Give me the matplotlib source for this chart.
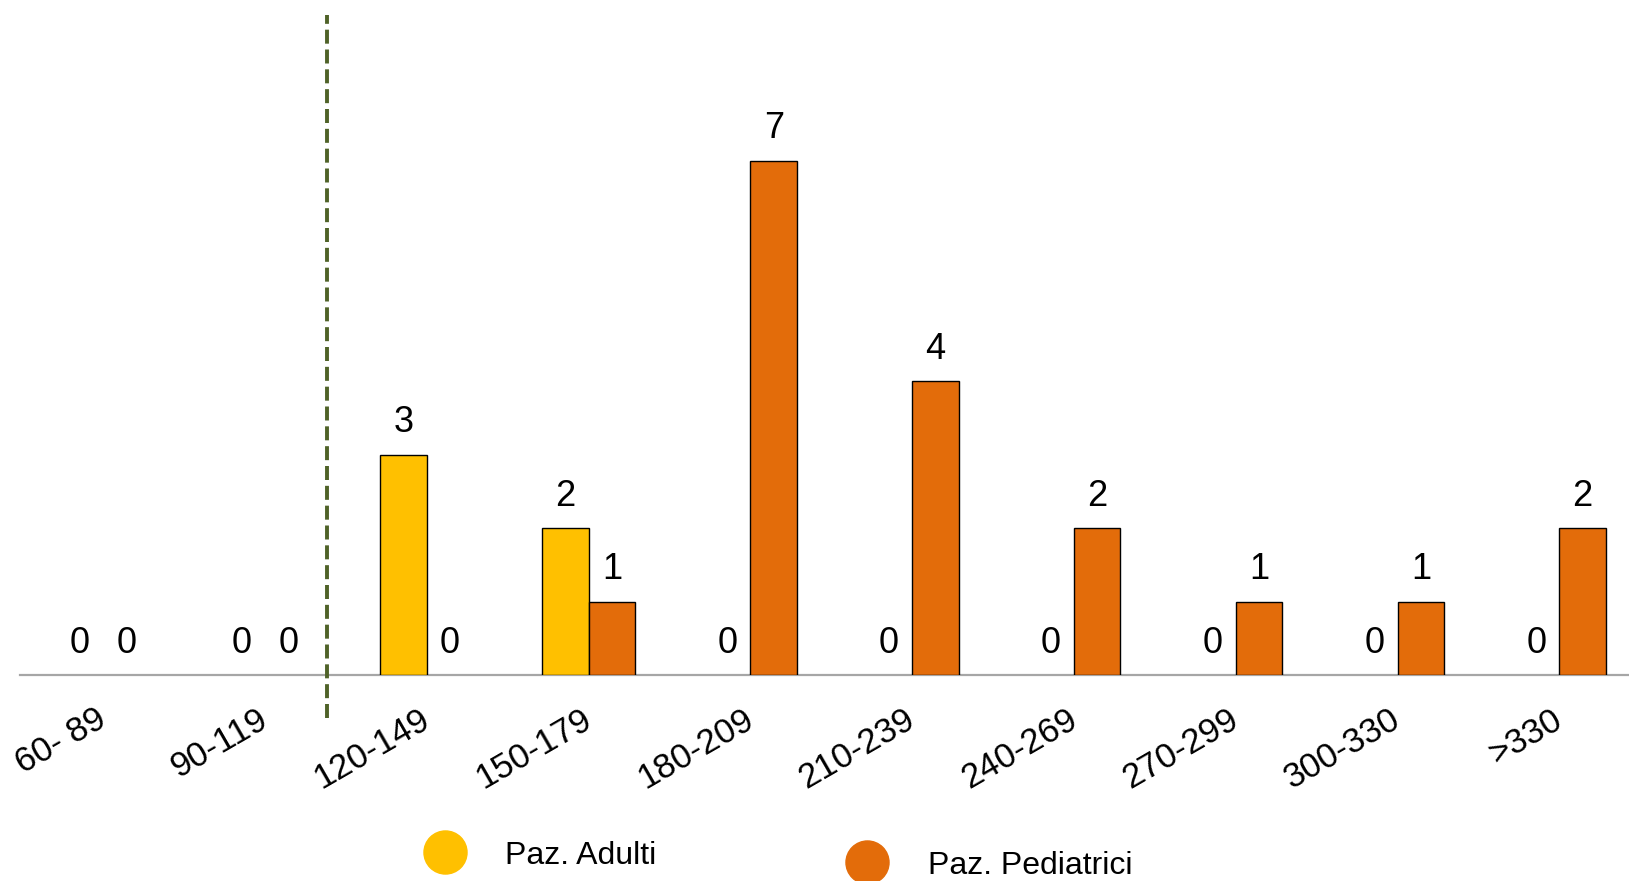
"""
plot.py

Bar chart of patient counts per range, adult vs paediatric patients,
with a dashed separator line and a hand-placed legend at the bottom.

Usage:
    python plot.py      # saves out.png
"""

import matplotlib
matplotlib.use("Agg")
import matplotlib.pyplot as plt
import matplotlib.transforms as mtransforms
import numpy as np

# ---------------------------------------------------------------------------
# Data
# ---------------------------------------------------------------------------

CATEGORIES = ["60- 89", "90-119", "120-149", "150-179", "180-209",
              "210-239", "240-269", "270-299", "300-330", ">330"]
ADULTI = [0, 0, 3, 2, 0, 0, 0, 0, 0, 0]
PEDIATRICI = [0, 0, 0, 1, 7, 4, 2, 1, 1, 2]
SERIES_NAMES = ["Paz. Adulti", "Paz. Pediatrici"]
SEPARATOR_X = 1.38  # dashed line between 90-119 and 120-149

COLOR_ADULTI = "#FFC000"
COLOR_PEDIATRICI = "#E36C0A"
COLOR_SEPARATOR = "#4F6228"

FONT = ["Liberation Sans", "DejaVu Sans"]

# ---------------------------------------------------------------------------
# Chart
# ---------------------------------------------------------------------------


def draw_series(ax, xs, values, width, color):
    # zero-height bars get no outline, so nothing shows on the baseline
    lws = [1.0 if v else 0 for v in values]
    ax.bar(xs, values, width, color=color, edgecolor="#000000",
           linewidth=lws, zorder=3)
    for x, v in zip(xs, values):
        ax.annotate(str(v), (x, v), xytext=(0, 16),
                    textcoords="offset points", ha="center", va="baseline",
                    fontsize=26, family=FONT, color="#000000")


def main() -> None:
    W, H = 1629, 881
    fig = plt.figure(figsize=(W / 100, H / 100), dpi=100)

    # axes spans from x=20px to right edge, baseline at y=675px
    ax = fig.add_axes([20 / W, (H - 675) / H, 1 - 20 / W, 675 / H])

    x = np.arange(len(CATEGORIES))
    width = 0.287

    draw_series(ax, x - width / 2, ADULTI, width, COLOR_ADULTI)
    draw_series(ax, x + width / 2, PEDIATRICI, width, COLOR_PEDIATRICI)

    ax.set_xlim(-0.515, 9.43)
    ax.set_ylim(0, 675 / 73.5)

    ax.plot([SEPARATOR_X, SEPARATOR_X], [-0.585, 8.98], color=COLOR_SEPARATOR,
            linewidth=2.8, linestyle=(0, (3.6, 1.5)), clip_on=False, zorder=4)

    for side in ("top", "right", "left"):
        ax.spines[side].set_visible(False)
    ax.spines["bottom"].set_color("#A6A6A6")
    ax.spines["bottom"].set_linewidth(1.6)
    ax.set_yticks([])

    ax.set_xticks(x)
    ax.set_xticklabels(CATEGORIES, rotation=30, ha="right",
                       rotation_mode="anchor", fontsize=25, family=FONT)
    ax.tick_params(axis="x", length=0, pad=20)
    shift = mtransforms.ScaledTranslation(-8 / 100, 0, fig.dpi_scale_trans)
    for lab in ax.get_xticklabels():
        lab.set_transform(lab.get_transform() + shift)

    # legend drawn manually on a full-figure overlay
    lg = fig.add_axes([0, 0, 1, 1], zorder=5)
    lg.set_xlim(0, W)
    lg.set_ylim(H, 0)
    lg.axis("off")
    lg.scatter([445], [852], s=31 ** 2, color=COLOR_ADULTI, clip_on=False)
    lg.scatter([867], [862], s=31 ** 2, color=COLOR_PEDIATRICI, clip_on=False)
    lg.text(505, 856, SERIES_NAMES[0], fontsize=23, family=FONT,
            ha="left", va="center")
    lg.text(928, 866, SERIES_NAMES[1], fontsize=23, family=FONT,
            ha="left", va="center")

    fig.savefig("out.png", dpi=100)
    plt.close(fig)


if __name__ == "__main__":
    main()
